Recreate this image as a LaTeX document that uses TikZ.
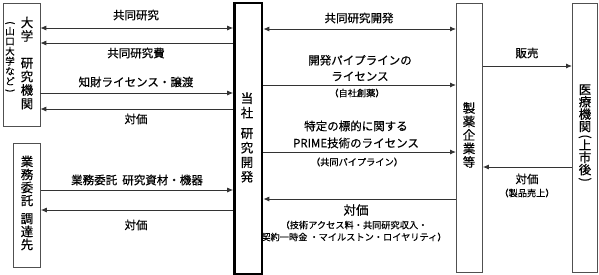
\documentclass[tikz,border=0pt]{standalone}
\usepackage{fontspec}
\usepackage{graphicx}
\setmainfont{Noto Sans CJK JP}[FakeBold=0.4]
\usetikzlibrary{positioning,arrows.meta,calc}
\definecolor{lineGray}{HTML}{333333}
\definecolor{boxGray}{HTML}{505050}
\newcommand{\vlp}{\rotatebox[origin=c]{-90}{(}}
\newcommand{\vrp}{\rotatebox[origin=c]{-90}{)}}

\begin{document}
\begin{tikzpicture}[x=1pt, y=-1pt, >={Latex[length=6pt,width=5pt]},
          box/.style={draw=boxGray, line width=0.8pt, anchor=north west, inner sep=0pt},
          core/.style={draw=black, line width=2.6pt, anchor=north west, inner sep=0pt},
          tate/.style={align=center, inner sep=0pt, font=\fontsize{12.5}{13.5}\selectfont},
          lbl/.style={align=center, inner sep=0pt, font=\fontsize{11.5}{16}\selectfont},
          note/.style={align=center, inner sep=0pt, font=\fontsize{9.2}{12}\selectfont},
          link/.style={draw=lineGray, line width=0.9pt}]
        \useasboundingbox (0,0) rectangle (599,274);
        % boxes
        \node[box, minimum width=37pt, minimum height=123pt] (univ) at (2.5,2.5) {};
        \node[box, minimum width=27pt, minimum height=124pt] (supp) at (13,143) {};
        \node[core, minimum width=27.5pt, minimum height=271pt] (hq) at (233.2,1.8) {};
        \node[box, minimum width=26pt, minimum height=269pt] (pharma) at (456,2.5) {};
        \node[box, minimum width=25pt, minimum height=269pt] (clinic) at (572,2.5) {};
        % vertical texts
        \node[tate] (univT) at (27,63) {大\\学\\[13.5pt]研\\究\\機\\関};
        \node[tate, font=\fontsize{9.5}{10}\selectfont] (univS) at (10,57.5) {\vlp\\[-1pt]山\\口\\大\\学\\な\\ど\\[-1pt]\vrp};
        \node[tate, font=\fontsize{12.5}{13}\selectfont] (suppT) at (27,203) {業\\務\\委\\託\\[5pt]調\\達\\先};
        \node[tate, font=\fontsize{12.5}{14.5}\selectfont] (hqT) at (247,137.5) {当\\社\\[6pt]研\\究\\開\\発};
        \node[tate] (pharmaT) at (469,135) {製\\薬\\企\\業\\等};
        \node[tate, font=\fontsize{12.5}{12.3}\selectfont] (clinicT) at (585,134) {医\\療\\機\\関\\[-3pt]\vlp\\[-3pt]上\\市\\後\\[-3pt]\vrp};
        % left side
        \draw[link, <->] (univ.east |- 0,28) -- (hq.west |- 0,28);
        \draw[link, <-] (univ.east |- 0,43) -- (hq.west |- 0,43);
        \draw[link, ->] (univ.east |- 0,93) -- (hq.west |- 0,93);
        \draw[link, <-] (univ.east |- 0,109) -- (hq.west |- 0,109);
        \draw[link, ->] (supp.east |- 0,190) -- (hq.west |- 0,190);
        \draw[link, <-] (supp.east |- 0,210) -- (hq.west |- 0,210);
        \node[lbl] (l1) at (136,15) {共同研究};
        \node[lbl] (l2) at (136,53) {共同研究費};
        \node[lbl] (l3) at (136,82) {知財ライセンス・譲渡};
        \node[lbl] (l4) at (136,119) {対価};
        \node[lbl] (l5) at (137,180) {業務委託\ \ 研究資材・機器};
        \node[lbl] (l6) at (136,225) {対価};
        % middle
        \draw[link, <->] (hq.east |- 0,29) -- (pharma.west |- 0,29);
        \draw[link, ->] (hq.east |- 0,85) -- (pharma.west |- 0,85);
        \draw[link, ->] (hq.east |- 0,152) -- (pharma.west |- 0,152);
        \draw[link, <-] (hq.east |- 0,199) -- (pharma.west |- 0,199);
        \node[lbl] (m1) at (359,18) {共同研究開発};
        \node[lbl] (m2) at (360,68) {開発パイプラインの\\ライセンス};
        \node[note] (m2n) at (357,93) {（自社創薬）};
        \node[lbl, font=\fontsize{11.5}{17}\selectfont] (m3) at (356,134.5) {特定の標的に関する\\PRIME技術のライセンス};
        \node[note] (m3n) at (357,162) {（共同パイプライン）};
        \node[lbl, font=\fontsize{12.5}{16}\selectfont] (m4) at (356,210) {対価};
        \node[note] (m4n) at (354,231) {（技術アクセス料・共同研究収入・\\契約一時金\ ・マイルストン・ロイヤリティ）};
        % right
        \draw[link, ->] (pharma.east |- 0,66) -- (clinic.west |- 0,66);
        \draw[link, <-] (pharma.east |- 0,167) -- (clinic.west |- 0,167);
        \node[lbl] (r1) at (527,53) {販売};
        \node[lbl] (r2) at (527,179) {対価};
        \node[note] (r2n) at (527,193) {（製品売上）};
      \end{tikzpicture}
\end{document}
